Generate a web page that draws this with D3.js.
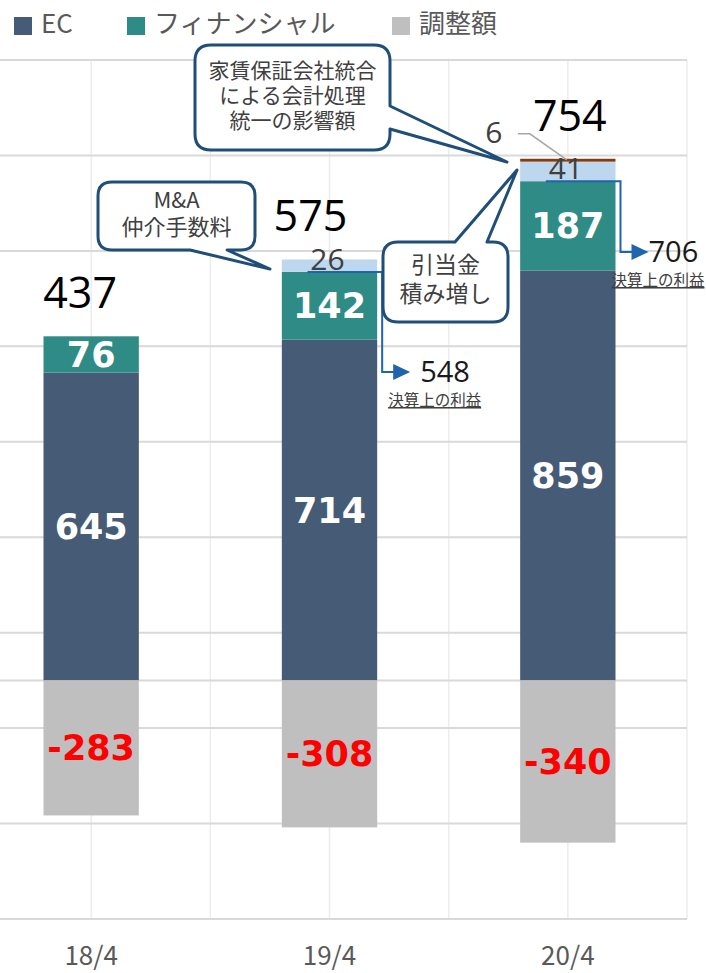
<!DOCTYPE html>
<html><head><meta charset="utf-8">
<script src="https://cdn.jsdelivr.net/npm/d3@7/dist/d3.min.js"></script>
<style>
html,body{margin:0;padding:0;background:#fff;}
svg{display:block;}
</style></head>
<body>
<svg id="chart" width="706" height="973"></svg>
<script>
// ---- data ----
const categories = ["18/4", "19/4", "20/4"];
const ecValues = [645, 714, 859];
const finValues = [76, 142, 187];
const oneOffValues = [0, 26, 41];      // M&A fee / allowance increase (light blue)
const accountingValues = [0, 0, 6];     // accounting unification impact (brown)
const adjValues = [-283, -308, -340];
const totalValues = [437, 575, 754];
const reportedValues = [null, 548, 706];
const yTicks = [-500, -300, -100, 100, 300, 500, 700, 900, 1100, 1300];
const legendNames = ["EC", "フィナンシャル", "調整額"];

const colors = {ec:"#465b76", fin:"#2e8b86", adj:"#bfbfbf", oneOff:"#bdd7ee", acc:"#843c0c"};
const svg = d3.select("#chart");
const W = 706, H = 973;
svg.append("rect").attr("width", W).attr("height", H).attr("fill", "#fff");

const y = d3.scaleLinear().domain([-500, 1300]).range([919, 60]);
const x = d3.scaleBand().domain(categories).range([-28, 687]).padding(0);
const bw = x.bandwidth() * 0.4;
const cx = c => x(c) + x.bandwidth() / 2;

// ---- grid ----
const grid = svg.append("g");
const vx = [];
categories.forEach(c => { vx.push(cx(c)); vx.push(x(c) + x.bandwidth()); });
grid.selectAll("line.v").data(vx).enter().append("line")
  .attr("x1", d => d).attr("x2", d => d).attr("y1", y(1300)).attr("y2", y(-500))
  .attr("stroke", "#ececec").attr("stroke-width", 1.5);
grid.selectAll("line.h").data(yTicks.concat([0])).enter().append("line")
  .attr("x1", 0).attr("x2", 687).attr("y1", d => y(d)).attr("y2", d => y(d))
  .attr("stroke", "#d9d9d9").attr("stroke-width", 2);

// ---- bars ----
const stacks = categories.map((c, i) => {
  const segs = [];
  let base = 0;
  [["ec", ecValues[i]], ["fin", finValues[i]], ["oneOff", oneOffValues[i]], ["acc", accountingValues[i]]].forEach(([k, v]) => {
    if (v > 0) { segs.push({c, k, v, y0: base, y1: base + v, i}); base += v; }
  });
  segs.push({c, k: "adj", v: adjValues[i], y0: adjValues[i], y1: 0, i});
  return segs;
}).flat();

svg.append("g").selectAll("rect").data(stacks).enter().append("rect")
  .attr("x", d => cx(d.c) - bw / 2).attr("width", bw)
  .attr("y", d => y(d.y1)).attr("height", d => y(d.y0) - y(d.y1))
  .attr("fill", d => colors[d.k]);

// ---- bar value labels ----
const inLabels = stacks.filter(d => d.k === "ec" || d.k === "fin" || d.k === "adj");
svg.append("g").selectAll("text").data(inLabels).enter().append("text")
  .attr("x", d => cx(d.c))
  .attr("y", d => (y(d.y0) + y(d.y1)) / 2 + 12.5)
  .attr("text-anchor", "middle")
  .attr("font-family", "'DejaVu Sans', sans-serif").attr("font-weight", "bold")
  .attr("font-size", 35)
  .attr("fill", d => d.k === "adj" ? "#ff0000" : "#ffffff")
  .text(d => d.v);

// one-off labels (26, 41)
const oneOffSegs = stacks.filter(d => d.k === "oneOff");
svg.append("g").selectAll("text").data(oneOffSegs).enter().append("text")
  .attr("x", d => cx(d.c) - 2)
  .attr("y", d => y(d.y0) - 2)
  .attr("text-anchor", "middle")
  .attr("font-family", "'Open Sans', sans-serif").attr("font-size", 30)
  .attr("fill", "#404040").text(d => d.v);

// accounting label (6) with leader line
const accSegs = stacks.filter(d => d.k === "acc");
accSegs.forEach(d => {
  const top = y(d.y1);
  svg.append("path")
    .attr("d", `M${cx(d.c) - 50},${top - 25} H${cx(d.c) - 38} L${cx(d.c) - 1},${top + 1}`)
    .attr("fill", "none").attr("stroke", "#a6a6a6").attr("stroke-width", 1.5);
  svg.append("text").attr("x", cx(d.c) - 74).attr("y", top - 16)
    .attr("text-anchor", "middle")
    .attr("font-family", "'Open Sans', sans-serif").attr("font-size", 30)
    .attr("fill", "#404040").text(d.v);
});

// totals
const totalDx = [-11, -19, 2];
categories.forEach((c, i) => {
  const top = ecValues[i] + finValues[i] + oneOffValues[i] + accountingValues[i];
  svg.append("text").attr("x", cx(c) + totalDx[i]).attr("y", y(top) - 28)
    .attr("text-anchor", "middle")
    .attr("font-family", "'Open Sans', sans-serif").attr("font-size", 43)
    .attr("fill", "#000").text(totalValues[i]);
});

// ---- reported profit arrows ----
const arrowColor = "#1f65ad";
const arrowDrops = [null, 372, 252];
const subDx = [0, 6, -9];
const numDx = [0, 10, 0];
const subLabel = "決算上の利益";
categories.forEach((c, i) => {
  if (reportedValues[i] == null) return;
  const yStart = y(ecValues[i] + finValues[i]);
  const xStart = cx(c) - 22;
  const xTurn = cx(c) + bw / 2 + 5;
  const yEnd = arrowDrops[i];
  const tip = xTurn + 28;
  svg.append("path")
    .attr("d", `M${xStart},${yStart} H${xTurn} V${yEnd} H${tip - 12}`)
    .attr("fill", "none").attr("stroke", arrowColor).attr("stroke-width", 2);
  svg.append("path")
    .attr("d", `M${tip - 17},${yEnd - 8} L${tip},${yEnd} L${tip - 17},${yEnd + 8} Z`)
    .attr("fill", arrowColor);
  svg.append("text").attr("x", tip + numDx[i]).attr("y", yEnd + 10)
    .attr("font-family", "'Open Sans', sans-serif").attr("font-size", 29)
    .attr("fill", "#1a1a1a").text(reportedValues[i]);
  svg.append("text").attr("x", xTurn + subDx[i]).attr("y", yEnd + 34)
    .attr("font-family", "'Noto Sans CJK JP', sans-serif").attr("font-size", 15.5)
    .attr("fill", "#404040").attr("text-decoration", "underline").text(subLabel);
});

// ---- callouts ----
function callout(x0, y0, x1, y1, r, tail, lines, fs, lh, textY) {
  const [side, a, b, tx, ty] = tail;
  let p = `M${x0 + r},${y0} `;
  if (side === "top") p += `H${a} L${tx},${ty} L${b},${y0} `;
  p += `H${x1 - r} Q${x1},${y0} ${x1},${y0 + r} `;
  if (side === "right") p += `V${a} L${tx},${ty} L${x1},${b} `;
  p += `V${y1 - r} Q${x1},${y1} ${x1 - r},${y1} `;
  if (side === "bottom") p += `H${b} L${tx},${ty} L${a},${y1} `;
  p += `H${x0 + r} Q${x0},${y1} ${x0},${y1 - r} V${y0 + r} Q${x0},${y0} ${x0 + r},${y0} Z`;
  svg.append("path").attr("d", p).attr("fill", "#fff")
    .attr("stroke", "#1f4e79").attr("stroke-width", 3).attr("stroke-linejoin", "round");
  const t = svg.append("text").attr("text-anchor", "middle")
    .attr("font-family", "'Noto Sans CJK JP', sans-serif").attr("font-size", fs)
    .attr("fill", "#404040");
  lines.forEach((l, k) => t.append("tspan").attr("x", (x0 + x1) / 2).attr("y", textY + k * lh).text(l));
}
callout(195, 45, 390, 150, 16, ["right", 106, 129, 507, 162],
  ["家賃保証会社統合", "による会計処理", "統一の影響額"], 21, 25, 78);
callout(98, 182, 255, 250, 14, ["bottom", 190, 227, 270, 269],
  ["M&A", "仲介手数料"], 22, 27, 208);
callout(383, 242, 508, 322, 15, ["top", 455, 487, 517, 170],
  ["引当金", "積み増し"], 23, 29, 273);

// ---- x axis labels ----
svg.append("g").selectAll("text").data(categories).enter().append("text")
  .attr("x", d => cx(d)).attr("y", 965).attr("text-anchor", "middle")
  .attr("font-family", "'Noto Sans CJK JP', sans-serif").attr("font-size", 26)
  .attr("fill", "#595959").text(d => d);

// ---- legend ----
const legendColors = [colors.ec, colors.fin, colors.adj];
const legendX = [14, 127, 392];
const lg = svg.append("g");
legendNames.forEach((n, i) => {
  lg.append("rect").attr("x", legendX[i]).attr("y", 17).attr("width", 18).attr("height", 18)
    .attr("fill", legendColors[i]);
  lg.append("text").attr("x", legendX[i] + 27).attr("y", 33)
    .attr("font-family", "'Noto Sans CJK JP', sans-serif").attr("font-size", 26)
    .attr("fill", "#595959").text(n);
});
</script>
</body></html>
